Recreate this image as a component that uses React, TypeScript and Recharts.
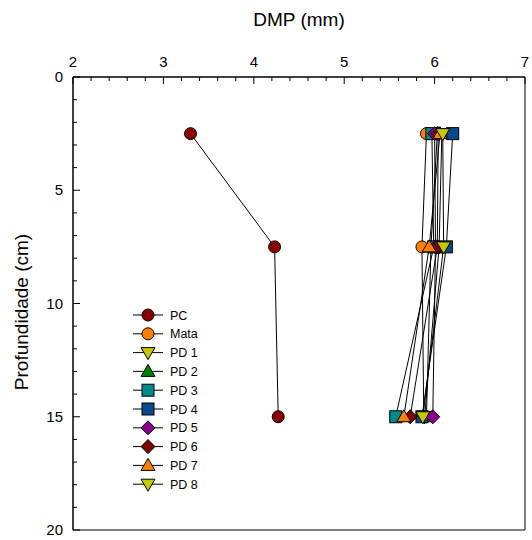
import React from "react";
import { ScatterChart, Scatter, XAxis, YAxis, ReferenceArea } from "recharts";

// profundidade (cm) das amostras
const profundidades = [2.5, 7.5, 15];

// DMP (mm) por tratamento, na ordem das profundidades
const dmpPC = [3.3, 4.23, 4.27];
const dmpMata = [5.91, 5.86, 5.88];
const dmpPD1 = [6.08, 6.05, 5.89];
const dmpPD2 = [6.03, 5.96, 5.91];
const dmpPD3 = [5.97, 5.99, 5.57];
const dmpPD4 = [6.2, 6.13, 5.86];
const dmpPD5 = [6.0, 6.01, 5.98];
const dmpPD6 = [6.04, 6.03, 5.73];
const dmpPD7 = [6.06, 5.94, 5.66];
const dmpPD8 = [6.09, 6.1, 5.87];

const xTicks = [2, 2.2, 2.4, 2.6, 2.8, 3, 3.2, 3.4, 3.6, 3.8, 4, 4.2, 4.4, 4.6, 4.8, 5, 5.2, 5.4, 5.6, 5.8, 6, 6.2, 6.4, 6.6, 6.8, 7];
const yTicks = [0, 1, 2, 3, 4, 5, 6, 7, 8, 9, 10, 11, 12, 13, 14, 15, 16, 17, 18, 19, 20];

const FONTE = "Arial, 'Liberation Sans', sans-serif";

type Forma = "circle" | "triDown" | "triUp" | "square" | "diamond";

interface Serie {
  nome: string;
  valores: number[];
  cor: string;
  forma: Forma;
}

const series: Serie[] = [
  { nome: "PC", valores: dmpPC, cor: "#8b0000", forma: "circle" },
  { nome: "Mata", valores: dmpMata, cor: "#ff8000", forma: "circle" },
  { nome: "PD 1", valores: dmpPD1, cor: "#c8c800", forma: "triDown" },
  { nome: "PD 2", valores: dmpPD2, cor: "#008000", forma: "triUp" },
  { nome: "PD 3", valores: dmpPD3, cor: "#008b8b", forma: "square" },
  { nome: "PD 4", valores: dmpPD4, cor: "#0a4a8c", forma: "square" },
  { nome: "PD 5", valores: dmpPD5, cor: "#8b008b", forma: "diamond" },
  { nome: "PD 6", valores: dmpPD6, cor: "#800000", forma: "diamond" },
  { nome: "PD 7", valores: dmpPD7, cor: "#ff8000", forma: "triUp" },
  { nome: "PD 8", valores: dmpPD8, cor: "#c8c800", forma: "triDown" },
];

function Marcador({ cx, cy, cor, forma }: { cx: number; cy: number; cor: string; forma: Forma }) {
  const p = { fill: cor, stroke: "#000", strokeWidth: 1 };
  switch (forma) {
    case "circle":
      return <circle cx={cx} cy={cy} r={6} {...p} />;
    case "square":
      return <rect x={cx - 6} y={cy - 6} width={12} height={12} {...p} />;
    case "triUp":
      return <polygon points={`${cx - 7},${cy + 5} ${cx + 7},${cy + 5} ${cx},${cy - 7}`} {...p} />;
    case "triDown":
      return <polygon points={`${cx - 7},${cy - 5} ${cx + 7},${cy - 5} ${cx},${cy + 7}`} {...p} />;
    case "diamond":
      return <polygon points={`${cx},${cy - 7} ${cx + 7},${cy} ${cx},${cy + 7} ${cx - 7},${cy}`} {...p} />;
  }
}

const ehInteiro = (v: number) => Math.abs(v - Math.round(v)) < 1e-6;

function TickX(props: any) {
  const { x, y, payload } = props;
  const maior = ehInteiro(payload.value);
  return (
    <g>
      <line x1={x} y1={y} x2={x} y2={y + (maior ? 7 : 4)} stroke="#000" />
      {maior && (
        <text x={x} y={y - 10} textAnchor="middle" fontSize={15} fontFamily={FONTE} fill="#000">
          {Math.round(payload.value)}
        </text>
      )}
    </g>
  );
}

function TickY(props: any) {
  const { x, y, payload } = props;
  const maior = payload.value % 5 === 0;
  return (
    <g>
      <line x1={x} y1={y} x2={x + (maior ? 7 : 4)} y2={y} stroke="#000" />
      {maior && (
        <text x={x - 10} y={y + 5} textAnchor="end" fontSize={15} fontFamily={FONTE} fill="#000">
          {payload.value}
        </text>
      )}
    </g>
  );
}

function Legenda() {
  return (
    <svg width={100} height={190} style={{ position: "absolute", left: 125, top: 305 }}>
      {series.map((s, i) => {
        const y = 10 + i * 18.8;
        return (
          <g key={s.nome}>
            <line x1={8} y1={y} x2={38} y2={y} stroke="#000" />
            <Marcador cx={23} cy={y} cor={s.cor} forma={s.forma} />
            <text x={45} y={y + 4.5} fontSize={12.5} fontFamily={FONTE} fill="#000">
              {s.nome}
            </text>
          </g>
        );
      })}
    </svg>
  );
}

export default function App() {
  return (
    <div style={{ position: "absolute", left: 0, top: 0, width: 532, height: 540 }}>
      <ScatterChart width={532} height={540} margin={{ top: 76, right: 7, bottom: 10, left: 72 }}>
        <XAxis
          type="number"
          dataKey="dmp"
          orientation="top"
          domain={[2, 7]}
          ticks={xTicks}
          interval={0}
          height={1}
          tickSize={0}
          tickMargin={0}
          tickLine={false}
          tick={<TickX />}
          axisLine={{ stroke: "#000" }}
          label={{ value: "DMP (mm)", position: "top", offset: 50, fontSize: 19, fontFamily: FONTE, fill: "#000" }}
        />
        <YAxis
          type="number"
          dataKey="prof"
          reversed
          domain={[0, 20]}
          ticks={yTicks}
          interval={0}
          width={1}
          tickSize={0}
          tickMargin={0}
          tickLine={false}
          tick={<TickY />}
          axisLine={{ stroke: "#000" }}
          label={{
            content: () => (
              <text
                x={28}
                y={312}
                transform="rotate(-90 28 312)"
                textAnchor="middle"
                fontSize={19}
                fontFamily={FONTE}
                fill="#000"
              >
                Profundidade (cm)
              </text>
            ),
          }}
        />
        <ReferenceArea x1={2} x2={7} y1={0} y2={20} fill="none" stroke="#000" strokeWidth={1} />
        {series.map((s) => (
          <Scatter
            key={s.nome}
            name={s.nome}
            data={profundidades.map((p, i) => ({ prof: p, dmp: s.valores[i] }))}
            line={{ stroke: "#000", strokeWidth: 1 }}
            isAnimationActive={false}
            shape={(props: any) => <Marcador cx={props.cx} cy={props.cy} cor={s.cor} forma={s.forma} />}
          />
        ))}
      </ScatterChart>
      <Legenda />
    </div>
  );
}
